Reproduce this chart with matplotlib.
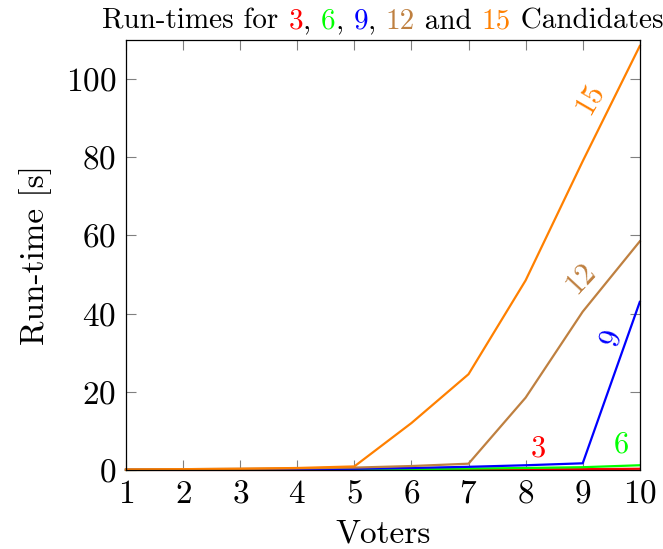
import matplotlib
matplotlib.use("Agg")
import matplotlib.pyplot as plt

plt.rcParams['font.family'] = 'cmr10'
plt.rcParams['mathtext.fontset'] = 'cm'
plt.rcParams['axes.formatter.use_mathtext'] = True

# data
voters = [1, 2, 3, 4, 5, 6, 7, 8, 9, 10]
cand_3 = [0.0, 0.0, 0.0, 0.0, 0.0, 0.05, 0.1, 0.15, 0.2, 0.3]
cand_6 = [0.0, 0.02, 0.05, 0.08, 0.1, 0.2, 0.35, 0.5, 0.7, 1.2]
cand_9 = [0.05, 0.1, 0.15, 0.2, 0.3, 0.5, 0.8, 1.2, 1.7, 43.0]
cand_12 = [0.1, 0.2, 0.3, 0.4, 0.6, 1.0, 1.6, 18.5, 40.5, 58.5]
cand_15 = [0.1, 0.2, 0.3, 0.5, 0.9, 12.0, 24.5, 48.5, 79.0, 108.5]

series = [("3", cand_3, "#ff0000"), ("6", cand_6, "#00ff00"), ("9", cand_9, "#0000ff"),
          ("12", cand_12, "#bf8040"), ("15", cand_15, "#ff8000")]

fig = plt.figure(figsize=(6.63, 5.49), dpi=100)
ax = fig.add_axes([0.190, 0.144, 0.775, 0.783])

for name, vals, col in series:
    ax.plot(voters, vals, color=col, lw=1.6, clip_on=False)

ax.set_xlim(1, 10)
ax.set_ylim(0, 110)
ax.set_xticks(voters)
ax.set_yticks([0, 20, 40, 60, 80, 100])
ax.tick_params(direction='in', top=True, right=True, length=7, width=0.8,
               color='#808080', labelsize=24, pad=7)
for sp in ax.spines.values():
    sp.set_linewidth(0.9)

ax.set_xlabel("Voters", fontsize=24, labelpad=8)
ax.set_ylabel("Run-time [s]", fontsize=24, labelpad=10)

# line labels
fs = 22
ax.text(8.22, 5.5, "3", color="#ff0000", fontsize=fs, ha='center', va='center')
ax.text(9.68, 6.5, "6", color="#00ff00", fontsize=fs, ha='center', va='center')
ax.text(9.5, 34, "9", color="#0000ff", fontsize=fs, ha='center', va='center', rotation=72, style='italic')
ax.text(8.97, 49, "12", color="#bf8040", fontsize=fs, ha='center', va='center', rotation=47)
ax.text(9.12, 95, "15", color="#ff8000", fontsize=fs, ha='center', va='center', rotation=60)

# multi-coloured title
parts = [("Run-times for ", "black"), ("3", "#ff0000"), (", ", "black"), ("6", "#00ff00"),
         (", ", "black"), ("9", "#0000ff"), (", ", "black"), ("12", "#bf8040"),
         (" and ", "black"), ("15", "#ff8000"), (" Candidates", "black")]
fig.canvas.draw()
renderer = fig.canvas.get_renderer()
texts = []
for s, c in parts:
    t = fig.text(0, 0.948, s, color=c, fontsize=21, va='baseline')
    texts.append(t)
widths = [t.get_window_extent(renderer).width for t in texts]
total = sum(widths)
center = (0.190 + 0.965) / 2 * fig.bbox.width
x = center - total / 2
for t, w in zip(texts, widths):
    t.set_x(x / fig.bbox.width)
    x += w

fig.savefig("out.png", dpi=100)
